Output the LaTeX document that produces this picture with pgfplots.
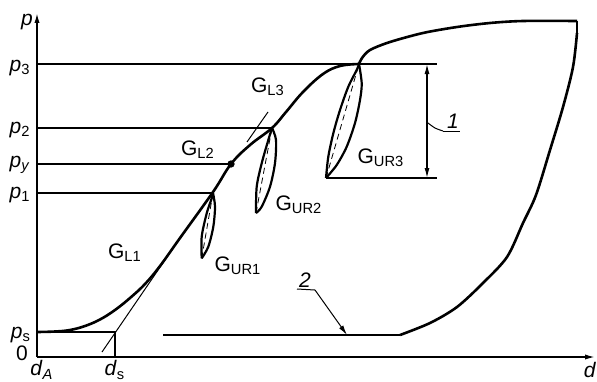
\documentclass[border=0pt]{standalone}
\usepackage{fontspec}
\setmainfont{Liberation Sans}
\usepackage{pgfplots}
\pgfplotsset{compat=1.18}
\usetikzlibrary{arrows.meta}
\newcommand\sub[1]{\textsubscript{#1}}

\begin{document}
\begin{tikzpicture}[font=\fontsize{10.5}{12}\selectfont]
\begin{axis}[
  x=0.5pt, y=0.5pt,
  xmin=0, xmax=558, ymin=0, ymax=344,
  axis lines=left,
  axis line style={line width=0.75pt, -{Latex[length=5pt,width=2.6pt]}},
  xtick=\empty, ytick=\empty,
  clip=false,
  every axis plot/.append style={black},
]
% reference levels
\addplot[line width=0.85pt] coordinates {(0,293) (400,293)};
\addplot[line width=0.85pt] coordinates {(0,229) (235,229)};
\addplot[line width=0.85pt] coordinates {(0,193) (194,193)};
\addplot[line width=0.85pt] coordinates {(0,164) (176,164)};
\addplot[line width=0.85pt] coordinates {(0,25) (78,25) (78,0)};
\addplot[line width=0.85pt] coordinates {(289,179) (400,179)};
% tangents
\addplot[line width=0.5pt] coordinates {(65,5) (143,119)};
\addplot[line width=0.5pt] coordinates {(210,215) (231,245)};
% loading curve
\addplot[line width=1.3pt, smooth, tension=0.65] coordinates {
  (0,25) (18,25.5) (33,27) (48,31) (63,37.5) (78,47) (93,59) (108,73)
  (123,91) (143,119) (176,165) (194,193) (213,212) (235,229)
  (249,245) (266,265) (286,283) (303,291) (322,293)};
\addplot[line width=1.3pt, smooth, tension=0.5] coordinates {
  (322,293) (325,299) (333,307) (353,315) (386,324) (420,330)
  (453,334) (486,336) (540,336)};
% unloading curve
\addplot[line width=1.3pt] coordinates {(540,336) (540,324)};
\addplot[line width=1.3pt, smooth, tension=0.5] coordinates {
  (540,324) (536,290) (526,250) (513,207) (499,162) (486,134)
  (470,100) (446,74) (420,50) (393,34) (363,22)};
\addplot[line width=1.3pt] coordinates {(363,22) (126,22)};
% loop 1
\addplot[line width=1.1pt, smooth] coordinates {(176,164) (178,150.3) (176.3,130.3) (171.3,110.3) (164.7,98.7)};
\addplot[line width=1.1pt, smooth] coordinates {(164.7,98.7) (164.7,120.3) (169.7,143.7) (174.7,158.7) (176,164)};
\addplot[line width=0.4pt, densely dashed] coordinates {(164.7,98.7) (176,164)};
% loop 2
\addplot[line width=1.1pt, smooth] coordinates {(235,229) (239,217) (238,194) (233,170.3) (224.7,150.3) (219,144)};
\addplot[line width=1.1pt, smooth] coordinates {(219,144) (219.7,170.3) (224.7,193.7) (231.3,217) (235,229)};
\addplot[line width=0.4pt, densely dashed] coordinates {(219,144) (235,229)};
% loop 3
\addplot[line width=1.1pt, smooth] coordinates {(322,293) (324.7,273.7) (323,257) (318,234) (309.7,210.3) (299.7,192) (289,179)};
\addplot[line width=1.1pt, smooth] coordinates {(289,179) (291.3,200.3) (296.3,223.7) (303,247) (311.3,270.3) (319.7,287) (322,293)};
\addplot[line width=0.4pt, densely dashed] coordinates {(289,179) (322,293)};
% yield point
\addplot[only marks, mark=*, mark size=1.6pt] coordinates {(194,193)};
% dimension and leaders
\addplot[line width=0.6pt, {Latex[length=5pt,width=2.5pt]}-{Latex[length=5pt,width=2.5pt]}] coordinates {(390,179) (390,293)};
\addplot[line width=0.5pt, smooth] coordinates {(391,234) (398,229) (406,226)};
\addplot[line width=0.5pt] coordinates {(406,226) (423,226)};
\addplot[line width=0.5pt] coordinates {(260,68) (278,67)};
\addplot[line width=0.5pt, -{Latex[length=5pt,width=2.5pt]}] coordinates {(278,67) (310,22)};
% labels
\node at (axis cs:-10,335) {\textit{p}};
\node at (axis cs:-17,289) {\textit{p}\sub{3}};
\node at (axis cs:-17,227) {\textit{p}\sub{2}};
\node at (axis cs:-17,192) {\textit{p}\sub{\textit{y}}};
\node at (axis cs:-17,162) {\textit{p}\sub{1}};
\node at (axis cs:-16,22) {\textit{p}\sub{s}};
\node at (axis cs:-15,4) {0};
\node at (axis cs:5,-13) {\textit{d}\sub{\textit{A}}};
\node at (axis cs:78,-13) {\textit{d}\sub{s}};
\node at (axis cs:553,-13) {\textit{d}};
\node at (axis cs:88,104) {G\sub{L1}};
\node at (axis cs:201,91) {G\sub{UR1}};
\node at (axis cs:161,207) {G\sub{L2}};
\node at (axis cs:231,270) {G\sub{L3}};
\node at (axis cs:262,152) {G\sub{UR2}};
\node at (axis cs:344,199) {G\sub{UR3}};
\node at (axis cs:416,236) {\textit{1}};
\node at (axis cs:268,77) {\textit{2}};
\coordinate (bbsw) at (axis cs:-37,-24);
\coordinate (bbne) at (axis cs:560,357);
\end{axis}
\pgfresetboundingbox
\path (bbsw) rectangle (bbne);
\end{tikzpicture}
\end{document}
